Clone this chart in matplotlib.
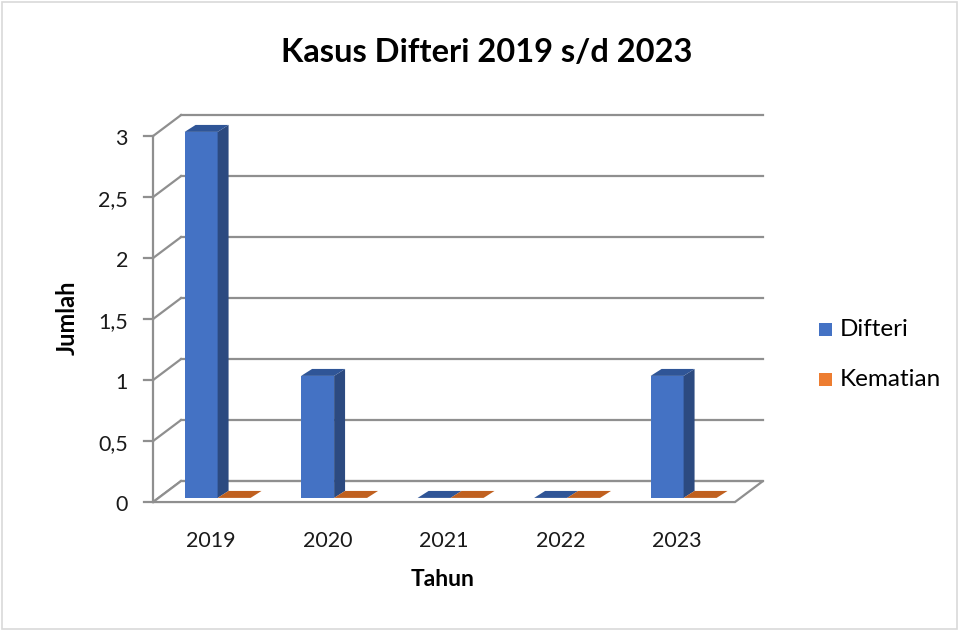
import matplotlib.pyplot as plt
from matplotlib.patches import Polygon, Rectangle

# data
years = ['2019', '2020', '2021', '2022', '2023']
difteri = [3, 1, 0, 0, 1]
kematian = [0, 0, 0, 0, 0]
y_ticks = [0, 0.5, 1, 1.5, 2, 2.5, 3]
y_tick_labels = ['0', '0,5', '1', '1,5', '2', '2,5', '3']

plt.rcParams['font.family'] = ['Lato', 'DejaVu Sans']

# pseudo-3D geometry (in data units of the front plane)
wall_dx, wall_dy = 0.24, 0.172      # depth of the walls / floor
bar_off_x, bar_off_y = 0.048, 0.034  # bars sit a bit behind the front plane
bar_dx, bar_dy = 0.094, 0.057        # depth of a bar
bar_w = 0.283
x_lo, x_hi = -0.506, 4.489
grid_c = '#8f8f8f'
txt_c = '#1a1a1a'

fig = plt.figure(figsize=(9.61, 6.31), dpi=100)
ax = fig.add_axes([0, 0, 1, 1])
ax.set_xlim(-1.820, 6.429)
ax.set_ylim(-1.057, 4.115)
ax.axis('off')

# back wall grid lines + diagonals on the left wall
for v, lab in zip(y_ticks, y_tick_labels):
    ax.plot([x_lo + wall_dx, x_hi + wall_dx], [v + wall_dy, v + wall_dy],
            color=grid_c, lw=1.6, zorder=1)
    ax.plot([x_lo, x_lo + wall_dx], [v, v + wall_dy], color=grid_c, lw=1.6, zorder=1)
    ax.plot([x_lo - 0.077, x_lo], [v, v], color=grid_c, lw=1.6, zorder=1)
    ax.text(x_lo - 0.215, v - 0.025, lab, ha='right', va='center',
            fontsize=15.5, color=txt_c)

# front axis line
ax.plot([x_lo, x_lo], [0, max(y_ticks)], color=grid_c, lw=1.6, zorder=2)

# floor
floor = Polygon([(x_lo, 0), (x_hi, 0), (x_hi + wall_dx, wall_dy), (x_lo + wall_dx, wall_dy)],
                closed=True, facecolor='white', edgecolor=grid_c, lw=1.6, zorder=2)
ax.add_patch(floor)


def draw_bar(x0, h, front, side, top):
    bx, by = x0 + bar_off_x, bar_off_y
    if h > 0:
        ax.add_patch(Rectangle((bx, by), bar_w, h, facecolor=front, edgecolor='none', zorder=3))
        ax.add_patch(Polygon([(bx + bar_w, by), (bx + bar_w + bar_dx, by + bar_dy),
                              (bx + bar_w + bar_dx, by + h + bar_dy), (bx + bar_w, by + h)],
                             closed=True, facecolor=side, edgecolor='none', zorder=3))
    ax.add_patch(Polygon([(bx, by + h), (bx + bar_w, by + h),
                          (bx + bar_w + bar_dx, by + h + bar_dy), (bx + bar_dx, by + h + bar_dy)],
                         closed=True, facecolor=top, edgecolor='none', zorder=3))


for i in range(len(years)):
    draw_bar(i - bar_w, difteri[i], '#4472c4', '#2c4a80', '#2f5597')
    draw_bar(i, kematian[i], '#ed7d31', '#ae5a21', '#c0601f')
    ax.text(i - 0.01, -0.32, years[i], ha='center', va='center', fontsize=15.5, color=txt_c)

# titles
fig.text(487 / 961, 1 - 53 / 631, 'Kasus Difteri 2019 s/d 2023', ha='center', va='center',
         fontsize=23.5, fontweight='bold', color='black')
fig.text(443 / 961, 1 - 580 / 631, 'Tahun', ha='center', va='center',
         fontsize=16.5, fontweight='bold', color='black')
fig.text(67 / 961, 1 - 318 / 631, 'Jumlah', ha='center', va='center', rotation=90,
         fontsize=17, fontweight='bold', color='black')

# legend
for name, col, yp in [('Difteri', '#4472c4', 330), ('Kematian', '#ed7d31', 380)]:
    fig.patches.append(Rectangle((819 / 961, 1 - (yp + 6) / 631), 13 / 961, 13 / 631,
                                 transform=fig.transFigure, facecolor=col, edgecolor='none'))
    fig.text(840 / 961, 1 - yp / 631, name, ha='left', va='center', fontsize=17.5, color='black')

# chart border
fig.patches.append(Rectangle((0.002, 0.003), 0.994, 0.994, transform=fig.transFigure,
                             fill=False, edgecolor='#d9d9d9', lw=1.2))

fig.savefig('out.png', dpi=100)
